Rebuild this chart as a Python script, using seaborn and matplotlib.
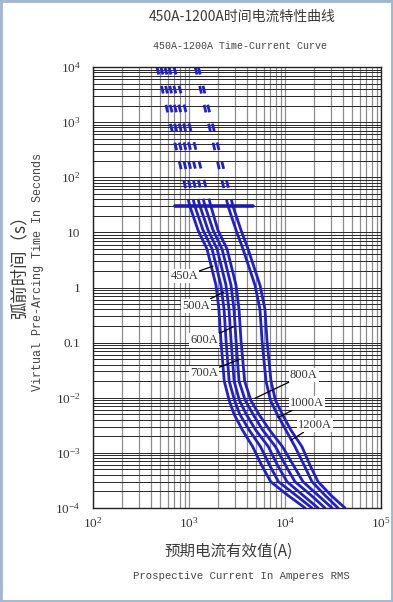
import matplotlib
matplotlib.use('Agg')
import matplotlib.pyplot as plt
import seaborn as sns
import pandas as pd
from matplotlib.ticker import FixedLocator, FixedFormatter, LogLocator, NullFormatter
from matplotlib.patches import Rectangle

sns.set_style('white')
plt.rcParams['font.family'] = ['Liberation Serif', 'Noto Sans CJK SC']
plt.rcParams['mathtext.fontset'] = 'custom'
plt.rcParams['mathtext.rm'] = 'Liberation Serif'
plt.rcParams['mathtext.it'] = 'Liberation Serif:italic'
plt.rcParams['mathtext.bf'] = 'Liberation Serif:bold'

# ---------------- data ----------------
ratings = ['450A', '500A', '600A', '700A', '800A', '1000A', '1200A']
times = [30, 11, 5, 1.1, 0.4, 0.11, 0.02, 0.009, 0.005, 0.0026, 0.0013, 0.0006, 0.0003, 0.00017, 0.0001]
current_450 = [1020, 1240, 1540, 1910, 2050, 2150, 2330, 2620, 2950, 3600, 4600, 5700, 7100, 10700, 16200]
current_500 = [1150, 1400, 1740, 2150, 2320, 2430, 2620, 2980, 3380, 4230, 5550, 6900, 8550, 13000, 19100]
current_600 = [1300, 1580, 1960, 2430, 2610, 2740, 2950, 3350, 3950, 4950, 6700, 8350, 10500, 15400, 22100]
current_700 = [1470, 1780, 2210, 2740, 2940, 3090, 3320, 3850, 4650, 5850, 7950, 10100, 12700, 18700, 26100]
current_800 = [1690, 2000, 2490, 3090, 3320, 3480, 3800, 4400, 5350, 6900, 9400, 12200, 15400, 22100, 30900]
current_1000 = [2550, 3090, 3650, 4870, 5490, 5760, 6340, 7050, 8300, 10200, 12700, 15800, 19100, 26100, 35700]
current_1200 = [2870, 3480, 4120, 5490, 6190, 6490, 7150, 7950, 9400, 11500, 15000, 18200, 22100, 30100, 42200]
dash_top_time = 10000
dash_top_current = [464, 511, 562, 619, 698, 1160, 1250]
bar_time = 30
bar_current = [715, 4650]

x_ticks = [1e2, 1e3, 1e4, 1e5]
x_ticklabels = ['$10^2$', '$10^3$', '$10^4$', '$10^5$']
y_ticks = [1e-4, 1e-3, 1e-2, 0.1, 1, 10, 1e2, 1e3, 1e4]
y_ticklabels = ['$10^{-4}$', '$10^{-3}$', '$10^{-2}$', '0.1', '1', '10', '$10^2$', '$10^3$', '$10^4$']

# label positions: (text current, text time, target current, target time, ha)
label_pos = {
    '450A': (1241, 1.6, 1778, 2.44, 'right'),
    '500A': (1655, 0.46, 2316, 0.83, 'right'),
    '600A': (2005, 0.11, 3013, 0.2, 'right'),
    '700A': (2005, 0.028, 3395, 0.05, 'right'),
    '800A': (11270, 0.0257, 4870, 0.0098, 'left'),
    '1000A': (11270, 0.008, 8460, 0.0044, 'left'),
    '1200A': (13650, 0.0032, 11550, 0.0017, 'left'),
}

solid = [current_450, current_500, current_600, current_700, current_800, current_1000, current_1200]
rows = []
for r, cur in zip(ratings, solid):
    for c, t in zip(cur, times):
        rows.append({'rating': r, 'current': c, 'time': t})
df_solid = pd.DataFrame(rows)

rows = []
for r, top, cur in zip(ratings, dash_top_current, solid):
    rows.append({'rating': r, 'current': top, 'time': dash_top_time})
    rows.append({'rating': r, 'current': cur[0], 'time': times[0]})
df_dash = pd.DataFrame(rows)

df_bar = pd.DataFrame({'current': bar_current, 'time': [bar_time, bar_time]})

# ---------------- figure ----------------
fig = plt.figure(figsize=(3.93, 6.02), dpi=100)
ax = fig.add_axes([93 / 393, 1 - 508 / 602, 288 / 393, 441 / 602])
ax.set_xscale('log')
ax.set_yscale('log')
ax.set_xlim(1e2, 1e5)
ax.set_ylim(1e-4, 1e4)

# grid
ax.xaxis.set_major_locator(FixedLocator(x_ticks))
ax.xaxis.set_major_formatter(FixedFormatter(x_ticklabels))
ax.yaxis.set_major_locator(FixedLocator(y_ticks))
ax.yaxis.set_major_formatter(FixedFormatter(y_ticklabels))
ax.xaxis.set_minor_locator(LogLocator(base=10, subs=range(2, 10), numticks=20))
ax.yaxis.set_minor_locator(LogLocator(base=10, subs=range(2, 10), numticks=20))
ax.xaxis.set_minor_formatter(NullFormatter())
ax.yaxis.set_minor_formatter(NullFormatter())
ax.grid(True, which='both', axis='x', color='#8e8e8e', lw=0.9)
ax.grid(True, which='both', axis='y', color='#262626', lw=0.7)
ax.set_axisbelow(True)
ax.tick_params(which='both', length=0)
ax.tick_params(axis='y', pad=9, labelsize=9.5, labelcolor='#333333')
ax.tick_params(axis='x', pad=6, labelsize=9.5, labelcolor='#333333')
for s in ax.spines.values():
    s.set_color('#222222')
    s.set_linewidth(1.0)

blue = '#2020cc'
sns.lineplot(data=df_dash, x='current', y='time', units='rating', estimator=None,
             sort=False, color=blue, lw=2.0, ax=ax, linestyle=(0, (2.8, 4.2)))
sns.lineplot(data=df_solid, x='current', y='time', units='rating', estimator=None,
             sort=False, color=blue, lw=2.0, ax=ax)
sns.lineplot(data=df_bar, x='current', y='time', estimator=None, sort=False,
             color='#1c1ca8', lw=2.6, ax=ax)
ax.set_xlabel('')
ax.set_ylabel('')

for r in ratings:
    tx, ty, px, py, ha = label_pos[r]
    ax.annotate(r, xy=(px, py), xytext=(tx, ty), ha=ha, va='center',
                fontsize=9, color='#333333', family=['Liberation Serif'],
                bbox=dict(boxstyle='square,pad=0.1', fc='white', ec='none'),
                arrowprops=dict(arrowstyle='-', color='black', lw=0.9,
                                shrinkA=0, shrinkB=0))

# titles and axis labels
fig.text(242 / 393, 1 - 17 / 602, '450A-1200A时间电流特性曲线', ha='center', va='center',
         fontsize=10, color='#3a3a3a', family=['Noto Sans CJK SC', 'DejaVu Sans'])
fig.text(240 / 393, 1 - 46 / 602, '450A-1200A Time-Current Curve', ha='center', va='center',
         fontsize=7.2, color='#444444', family=['Liberation Mono'])
fig.text(19 / 393, 1 - 263 / 602, '弧前时间（s）', ha='center', va='center', rotation=90,
         fontsize=12.5, color='#3a3a3a', family=['Noto Sans CJK SC', 'DejaVu Sans'])
fig.text(38 / 393, 1 - 272 / 602, 'Virtual Pre-Arcing Time In Seconds', ha='center', va='center',
         rotation=90, fontsize=8.5, color='#444444', family=['Liberation Mono'])
fig.text(229 / 393, 1 - 551 / 602, '预期电流有效值(A)', ha='center', va='center',
         fontsize=11.2, color='#3a3a3a', family=['Noto Sans CJK SC', 'DejaVu Sans'])
fig.text(241 / 393, 1 - 576 / 602, 'Prospective Current In Amperes RMS', ha='center', va='center',
         fontsize=7.7, color='#444444', family=['Liberation Mono'])

fig.patches.append(Rectangle((0, 0), 1, 1, transform=fig.transFigure, fill=False,
                             edgecolor='#a0b8d2', lw=3.5))

fig.savefig('out.png', dpi=100)
